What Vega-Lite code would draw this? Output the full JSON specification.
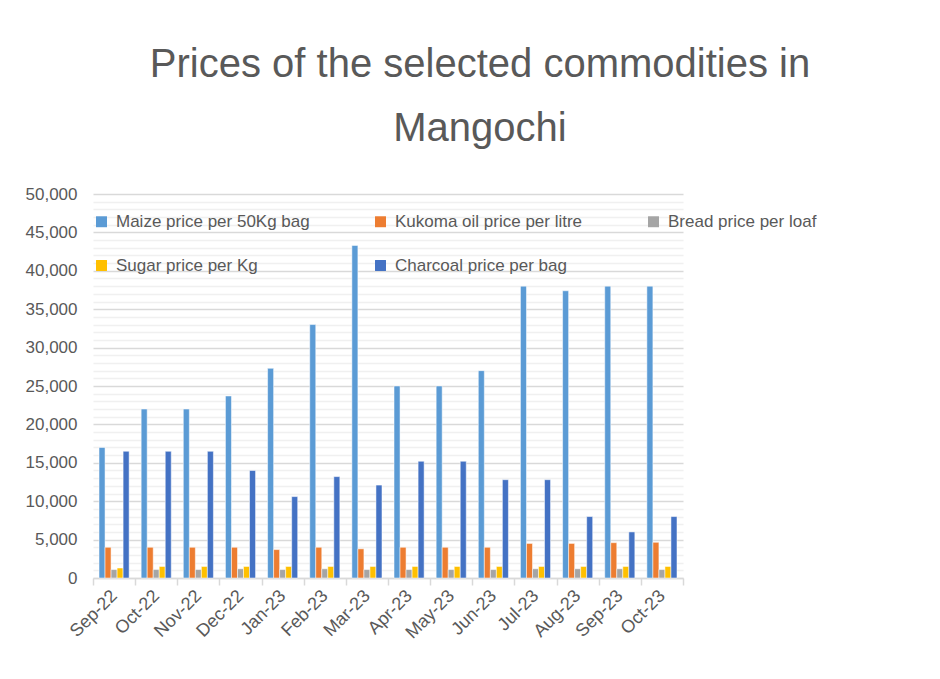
{
  "$schema": "https://vega.github.io/schema/vega-lite/v6.json",
  "width": 590,
  "height": 384,
  "autosize": "none",
  "padding": {"left": 93, "top": 194, "right": 257, "bottom": 101},
  "background": "white",
  "title": {
    "text": ["Prices of the selected commodities in", "Mangochi"],
    "font": "Liberation Sans",
    "fontSize": 40,
    "fontWeight": "normal",
    "color": "#595959",
    "anchor": "middle",
    "dx": 92,
    "offset": 36,
    "lineHeight": 64
  },
  "config": {
    "view": {"stroke": null},
    "font": "Liberation Sans"
  },
  "data": {
    "values": [
      {"month": "Sep-22", "series": "Maize price per 50Kg bag", "value": 17000},
      {"month": "Sep-22", "series": "Kukoma oil price per litre", "value": 4000},
      {"month": "Sep-22", "series": "Bread price per loaf", "value": 1100},
      {"month": "Sep-22", "series": "Sugar price per Kg", "value": 1300},
      {"month": "Sep-22", "series": "Charcoal price per bag", "value": 16500},
      {"month": "Oct-22", "series": "Maize price per 50Kg bag", "value": 22000},
      {"month": "Oct-22", "series": "Kukoma oil price per litre", "value": 4000},
      {"month": "Oct-22", "series": "Bread price per loaf", "value": 1100},
      {"month": "Oct-22", "series": "Sugar price per Kg", "value": 1500},
      {"month": "Oct-22", "series": "Charcoal price per bag", "value": 16500},
      {"month": "Nov-22", "series": "Maize price per 50Kg bag", "value": 22000},
      {"month": "Nov-22", "series": "Kukoma oil price per litre", "value": 4000},
      {"month": "Nov-22", "series": "Bread price per loaf", "value": 1100},
      {"month": "Nov-22", "series": "Sugar price per Kg", "value": 1500},
      {"month": "Nov-22", "series": "Charcoal price per bag", "value": 16500},
      {"month": "Dec-22", "series": "Maize price per 50Kg bag", "value": 23700},
      {"month": "Dec-22", "series": "Kukoma oil price per litre", "value": 4000},
      {"month": "Dec-22", "series": "Bread price per loaf", "value": 1200},
      {"month": "Dec-22", "series": "Sugar price per Kg", "value": 1500},
      {"month": "Dec-22", "series": "Charcoal price per bag", "value": 14000},
      {"month": "Jan-23", "series": "Maize price per 50Kg bag", "value": 27300},
      {"month": "Jan-23", "series": "Kukoma oil price per litre", "value": 3700},
      {"month": "Jan-23", "series": "Bread price per loaf", "value": 1100},
      {"month": "Jan-23", "series": "Sugar price per Kg", "value": 1500},
      {"month": "Jan-23", "series": "Charcoal price per bag", "value": 10600},
      {"month": "Feb-23", "series": "Maize price per 50Kg bag", "value": 33000},
      {"month": "Feb-23", "series": "Kukoma oil price per litre", "value": 4000},
      {"month": "Feb-23", "series": "Bread price per loaf", "value": 1200},
      {"month": "Feb-23", "series": "Sugar price per Kg", "value": 1500},
      {"month": "Feb-23", "series": "Charcoal price per bag", "value": 13200},
      {"month": "Mar-23", "series": "Maize price per 50Kg bag", "value": 43300},
      {"month": "Mar-23", "series": "Kukoma oil price per litre", "value": 3800},
      {"month": "Mar-23", "series": "Bread price per loaf", "value": 1100},
      {"month": "Mar-23", "series": "Sugar price per Kg", "value": 1500},
      {"month": "Mar-23", "series": "Charcoal price per bag", "value": 12100},
      {"month": "Apr-23", "series": "Maize price per 50Kg bag", "value": 25000},
      {"month": "Apr-23", "series": "Kukoma oil price per litre", "value": 4000},
      {"month": "Apr-23", "series": "Bread price per loaf", "value": 1100},
      {"month": "Apr-23", "series": "Sugar price per Kg", "value": 1500},
      {"month": "Apr-23", "series": "Charcoal price per bag", "value": 15200},
      {"month": "May-23", "series": "Maize price per 50Kg bag", "value": 25000},
      {"month": "May-23", "series": "Kukoma oil price per litre", "value": 4000},
      {"month": "May-23", "series": "Bread price per loaf", "value": 1100},
      {"month": "May-23", "series": "Sugar price per Kg", "value": 1500},
      {"month": "May-23", "series": "Charcoal price per bag", "value": 15200},
      {"month": "Jun-23", "series": "Maize price per 50Kg bag", "value": 27000},
      {"month": "Jun-23", "series": "Kukoma oil price per litre", "value": 4000},
      {"month": "Jun-23", "series": "Bread price per loaf", "value": 1100},
      {"month": "Jun-23", "series": "Sugar price per Kg", "value": 1500},
      {"month": "Jun-23", "series": "Charcoal price per bag", "value": 12800},
      {"month": "Jul-23", "series": "Maize price per 50Kg bag", "value": 38000},
      {"month": "Jul-23", "series": "Kukoma oil price per litre", "value": 4500},
      {"month": "Jul-23", "series": "Bread price per loaf", "value": 1200},
      {"month": "Jul-23", "series": "Sugar price per Kg", "value": 1500},
      {"month": "Jul-23", "series": "Charcoal price per bag", "value": 12800},
      {"month": "Aug-23", "series": "Maize price per 50Kg bag", "value": 37400},
      {"month": "Aug-23", "series": "Kukoma oil price per litre", "value": 4500},
      {"month": "Aug-23", "series": "Bread price per loaf", "value": 1200},
      {"month": "Aug-23", "series": "Sugar price per Kg", "value": 1500},
      {"month": "Aug-23", "series": "Charcoal price per bag", "value": 8000},
      {"month": "Sep-23", "series": "Maize price per 50Kg bag", "value": 38000},
      {"month": "Sep-23", "series": "Kukoma oil price per litre", "value": 4600},
      {"month": "Sep-23", "series": "Bread price per loaf", "value": 1200},
      {"month": "Sep-23", "series": "Sugar price per Kg", "value": 1500},
      {"month": "Sep-23", "series": "Charcoal price per bag", "value": 6000},
      {"month": "Oct-23", "series": "Maize price per 50Kg bag", "value": 38000},
      {"month": "Oct-23", "series": "Kukoma oil price per litre", "value": 4650},
      {"month": "Oct-23", "series": "Bread price per loaf", "value": 1100},
      {"month": "Oct-23", "series": "Sugar price per Kg", "value": 1500},
      {"month": "Oct-23", "series": "Charcoal price per bag", "value": 8000}
    ]
  },
  "layer": [
    {
      "mark": {"type": "rule", "opacity": 0},
      "encoding": {
        "y": {
          "field": "value",
          "type": "quantitative",
          "scale": {"domain": [0, 50000], "nice": false},
          "axis": {
            "values": [1000, 2000, 3000, 4000, 6000, 7000, 8000, 9000, 11000, 12000, 13000, 14000, 16000, 17000, 18000, 19000, 21000, 22000, 23000, 24000, 26000, 27000, 28000, 29000, 31000, 32000, 33000, 34000, 36000, 37000, 38000, 39000, 41000, 42000, 43000, 44000, 46000, 47000, 48000, 49000],
            "orient": "right",
            "labels": false,
            "ticks": false,
            "domain": false,
            "title": null,
            "grid": true,
            "gridColor": "#f0f0f0",
            "gridWidth": 1.5,
            "zindex": 0
          }
        }
      }
    },
    {
      "mark": {"type": "bar", "stroke": "white", "strokeWidth": 0.5},
      "encoding": {
        "x": {
          "field": "month",
          "type": "nominal",
          "sort": null,
          "scale": {"paddingInner": 0, "paddingOuter": 0},
          "axis": {
            "title": null,
            "labelAngle": -45,
            "labelAlign": "right",
            "labelBaseline": "middle",
            "labelFontSize": 18,
            "labelColor": "#595959",
            "labelPadding": 8,
            "domainColor": "#d9d9d9",
            "domainWidth": 1.5,
            "tickColor": "#d9d9d9",
            "tickWidth": 1.5,
            "tickSize": 7,
            "tickBand": "extent",
            "grid": false
          }
        },
        "xOffset": {
          "field": "series",
          "type": "nominal",
          "sort": ["Maize price per 50Kg bag", "Kukoma oil price per litre", "Bread price per loaf", "Sugar price per Kg", "Charcoal price per bag"],
          "scale": {"paddingInner": 0, "paddingOuter": 1}
        },
        "y": {
          "field": "value",
          "type": "quantitative",
          "axis": {
            "orient": "left",
            "values": [0, 5000, 10000, 15000, 20000, 25000, 30000, 35000, 40000, 45000, 50000],
            "format": ",.0f",
            "formatType": "number",
            "title": null,
            "labelFontSize": 17,
            "labelColor": "#595959",
            "labelPadding": 16,
            "ticks": false,
            "domain": false,
            "grid": true,
            "gridColor": "#d9d9d9",
            "gridWidth": 1.5,
            "zindex": 0
          }
        },
        "color": {
          "field": "series",
          "type": "nominal",
          "sort": ["Maize price per 50Kg bag", "Kukoma oil price per litre", "Bread price per loaf", "Sugar price per Kg", "Charcoal price per bag"],
          "scale": {
            "domain": ["Maize price per 50Kg bag", "Kukoma oil price per litre", "Bread price per loaf", "Sugar price per Kg", "Charcoal price per bag"],
            "range": ["#5B9BD5", "#ED7D31", "#A5A5A5", "#FFC000", "#4472C4"]
          },
          "legend": {
            "title": null,
            "orient": "none",
            "direction": "horizontal",
            "legendX": 0,
            "legendY": 19,
            "columns": 3,
            "columnPadding": 62,
            "rowPadding": 26,
            "symbolType": "square",
            "symbolSize": 120,
            "symbolStrokeWidth": 0,
            "labelFontSize": 17,
            "labelColor": "#595959",
            "labelLimit": 400,
            "labelOffset": 6
          }
        }
      }
    }
  ],
  "resolve": {"axis": {"y": "independent"}}
}
